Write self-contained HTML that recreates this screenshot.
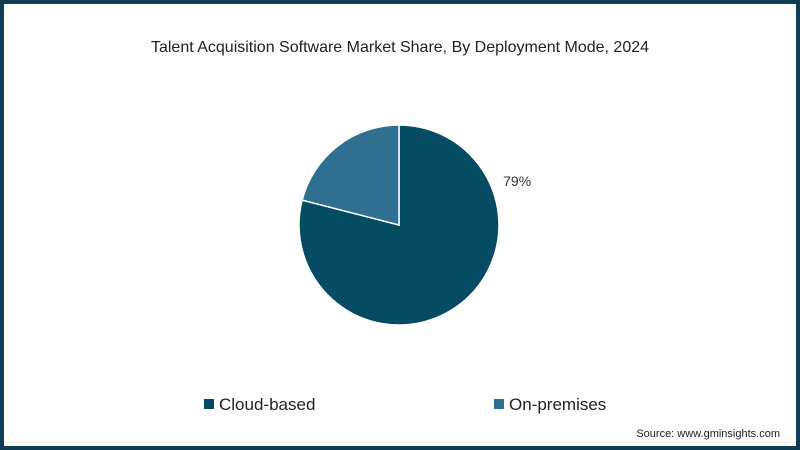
<!DOCTYPE html>
<html><head><meta charset="utf-8"><style>
html,body{margin:0;padding:0;}
body{width:800px;height:450px;overflow:hidden;background:#fff;font-family:"Liberation Sans",sans-serif;}
#frame{position:absolute;left:0;top:0;width:792px;height:442px;border:4px solid #0f3d55;}
</style></head><body>
<div id="frame"></div>
<svg width="800" height="450" style="position:absolute;left:0;top:0">
<text x="400" y="52" text-anchor="middle" font-size="16" fill="#222">Talent Acquisition Software Market Share, By Deployment Mode, 2024</text>
<g id="pie"></g>
<g>
<rect x="204" y="399" width="10" height="10" fill="#054b63"/>
<text x="219" y="410" font-size="17" fill="#222">Cloud-based</text>
<rect x="494" y="399" width="10" height="10" fill="#2f6f8f"/>
<text x="509" y="410" font-size="17" fill="#222">On-premises</text>
</g>
<line x1="4" y1="442" x2="796" y2="442" stroke="#eee"/>
<text x="780" y="437" text-anchor="end" font-size="11" fill="#222">Source: www.gminsights.com</text>
</svg>
<script>
const categories=["Cloud-based","On-premises"];
const shares=[79,21];
const colors=["#054b63","#2f6f8f"];
const labels=["79%",""];
const cx=399,cy=225,r=100;
const g=document.getElementById('pie');
const ns="http://www.w3.org/2000/svg";
const total=shares.reduce((a,b)=>a+b,0);
function pt(a,rr){return [cx+rr*Math.sin(a),cy-rr*Math.cos(a)];}
let a0=0;
shares.forEach((v,i)=>{
  const a1=a0+v/total*2*Math.PI;
  const p0=pt(a0,r),p1=pt(a1,r);
  const large=(a1-a0)>Math.PI?1:0;
  const p=document.createElementNS(ns,'path');
  p.setAttribute('d',`M${cx},${cy}L${p0[0]},${p0[1]}A${r},${r} 0 ${large} 1 ${p1[0]},${p1[1]}Z`);
  p.setAttribute('fill',colors[i]);
  p.setAttribute('stroke','#fff');
  p.setAttribute('stroke-width','1.5');
  
  
  g.appendChild(p);
  if(labels[i]){
    const lp=pt(a0+0.245*(a1-a0),r+26);
    const t=document.createElementNS(ns,'text');
    t.setAttribute('x',lp[0]);t.setAttribute('y',lp[1]+5);
    t.setAttribute('font-size','14');t.setAttribute('fill','#333');
    t.setAttribute('text-anchor','middle');
    t.textContent=labels[i];
    
    
    g.appendChild(t);
  }
  a0=a1;
});
</script>
</body></html>
